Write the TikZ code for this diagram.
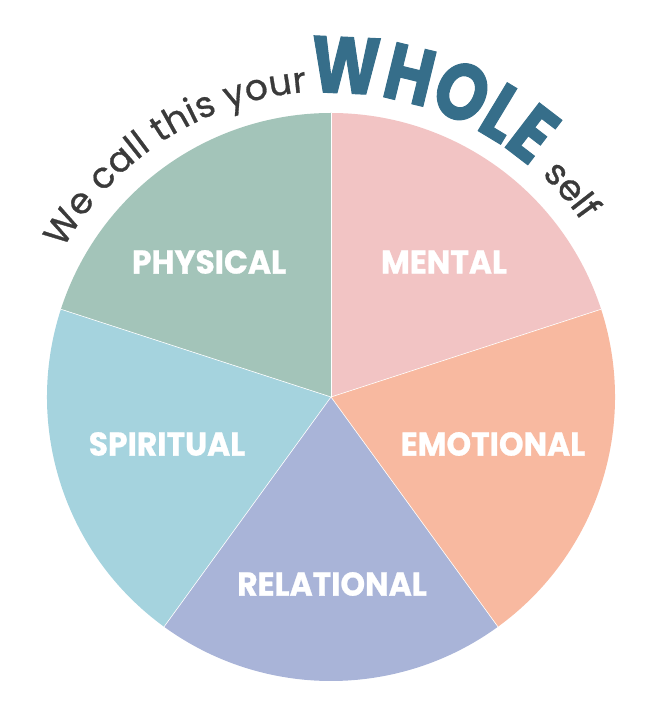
\documentclass[tikz,border=0pt]{standalone}
\usepackage{fontspec}
\usetikzlibrary{decorations.text}
\newfontfamily\labfont{Poppins}[FakeStretch=0.95,FakeBold=0.8]
\newfontfamily\arcfont{Poppins}[FakeBold=0.8]
\newfontfamily\wholefont{Poppins}[FakeStretch=0.83,FakeBold=1.2]
\definecolor{cMental}{RGB}{242,196,196}
\definecolor{cEmotional}{RGB}{248,185,160}
\definecolor{cRelational}{RGB}{169,180,216}
\definecolor{cSpiritual}{RGB}{165,211,222}
\definecolor{cPhysical}{RGB}{163,196,185}
\definecolor{cDark}{RGB}{58,58,58}
\definecolor{cWhole}{RGB}{54,110,138}
\tikzset{
  wedge/.style={fill=#1},
  sep/.style={draw=white, line width=0.6pt},
  lab/.style={text=white, inner sep=0pt, font=\labfont\bfseries\fontsize{33}{33}\selectfont},
}
\begin{document}
\begin{tikzpicture}[x=1pt,y=1pt]
\useasboundingbox (0,0) rectangle (653,720);
\coordinate (C) at (331,323);
\begin{scope}[shift={(331,323)}]
  \fill[wedge=cMental] (0,0) -- (18:284) arc[start angle=18,end angle=90,radius=284] -- cycle;
  \fill[wedge=cPhysical] (0,0) -- (90:284) arc[start angle=90,end angle=162,radius=284] -- cycle;
  \fill[wedge=cSpiritual] (0,0) -- (162:284) arc[start angle=162,end angle=234,radius=284] -- cycle;
  \fill[wedge=cRelational] (0,0) -- (234:284) arc[start angle=234,end angle=306,radius=284] -- cycle;
  \fill[wedge=cEmotional] (0,0) -- (306:284) arc[start angle=306,end angle=378,radius=284] -- cycle;
  \coordinate (b1) at (18:284);
  \coordinate (b2) at (90:284);
  \coordinate (b3) at (162:284);
  \coordinate (b4) at (234:284);
  \coordinate (b5) at (306:284);
  % curved title
  \path[decorate, decoration={text along path, text color=cDark, text align={fit to path},
      text={|\arcfont\fontsize{36}{36}\selectfont|We call this your}}]
    (151:306) arc[start angle=151,end angle=94.5,radius=306];
  \path[decorate, decoration={text along path, text color=cWhole, text align=left,
      text={|\wholefont\bfseries\fontsize{80}{80}\selectfont|WHOLE}}]
    (94:304) arc[start angle=94,end angle=30,radius=304];
  \path[decorate, decoration={text along path, text color=cDark, text align={fit to path},
      text={|\arcfont\fontsize{36}{36}\selectfont|self}}]
    (46.5:306) arc[start angle=46.5,end angle=35,radius=306];
\end{scope}
\foreach \b in {b1,b2,b3,b4,b5} \draw[sep] (C) -- (\b);
\node[lab] (mental) at (444,458) {MENTAL};
\node[lab] (physical) at (209,458) {PHYSICAL};
\node[lab] (spiritual) at (167,276) {SPIRITUAL};
\node[lab] (emotional) at (493,276) {EMOTIONAL};
\node[lab] (relational) at (332,136) {RELATIONAL};
\end{tikzpicture}
\end{document}
